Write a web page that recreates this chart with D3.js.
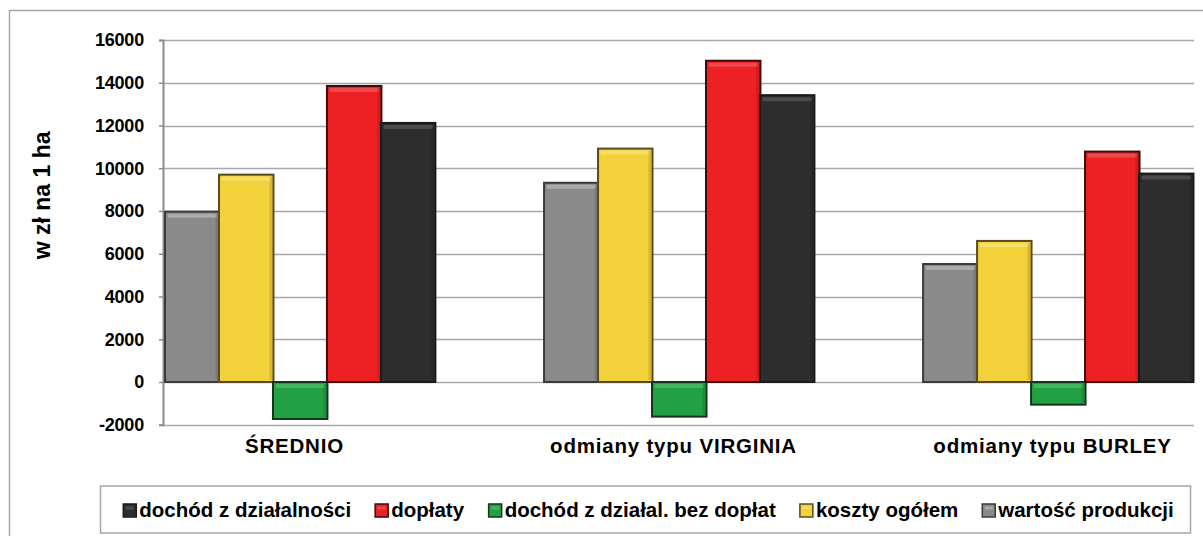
<!DOCTYPE html>
<html>
<head>
<meta charset="utf-8">
<script src="https://cdn.jsdelivr.net/npm/d3@7"></script>
<style>
  body { margin: 0; background: #fff; }
  svg { display: block; font-family: "Liberation Sans", Arial, sans-serif; font-weight: bold; }
</style>
</head>
<body>
<div id="chart"></div>
<script>
// categories on the x axis
const categories = ["ŚREDNIO", "odmiany typu VIRGINIA", "odmiany typu BURLEY"];

// series values (zł na 1 ha), in bar order
const wartoscProdukcji = [7970, 9320, 5520];
const kosztyOgolem = [9700, 10920, 6600];
const dochodBezDoplat = [-1730, -1620, -1060];
const doplaty = [13850, 15030, 10780];
const dochodZDzialalnosci = [12120, 13420, 9750];

const seriesNames = [
  "wartość produkcji",
  "koszty ogółem",
  "dochód z działal. bez dopłat",
  "dopłaty",
  "dochód z działalności",
];
const seriesValues = [wartoscProdukcji, kosztyOgolem, dochodBezDoplat, doplaty, dochodZDzialalnosci];

// legend lists the series in reverse
const legendOrder = [4, 3, 2, 1, 0];

const yTicks = [-2000, 0, 2000, 4000, 6000, 8000, 10000, 12000, 14000, 16000];

// fill, outline, bevel highlight
const colors = [
  { fill: "#8a8a8a", stroke: "#3a3a3a", light: "#b5b5b5" },
  { fill: "#f2d13a", stroke: "#5a4a20", light: "#f7e37a" },
  { fill: "#22a144", stroke: "#14361d", light: "#52bd66" },
  { fill: "#ed2024", stroke: "#3a0c0c", light: "#f0575a" },
  { fill: "#2d2d2d", stroke: "#1a1a1a", light: "#555555" },
];

function drawChart(id) {
  const w = 1203;
  const h = 536;
  const plot = { left: 163, right: 1194, top: 40, bottom: 424.75 };

  const svg = d3
    .select(`#${id}`)
    .append("svg")
    .attr("width", w)
    .attr("height", h);

  // outer chart border (right and bottom run past the picture)
  svg
    .append("rect")
    .attr("x", 9.5)
    .attr("y", 10.5)
    .attr("width", w)
    .attr("height", h)
    .attr("fill", "none")
    .attr("stroke", "#a6a6a6")
    .attr("stroke-width", 1.5);

  const y = d3.scaleLinear().domain([-2000, 16000]).range([plot.bottom, plot.top]);

  const x0 = d3
    .scaleBand()
    .domain(categories)
    .range([plot.left, plot.right])
    .paddingInner(0.288)
    .paddingOuter(0.004);

  const x1 = d3
    .scaleBand()
    .domain(d3.range(seriesNames.length))
    .range([0, x0.bandwidth()]);

  // gridlines
  svg
    .append("g")
    .selectAll("line")
    .data(yTicks)
    .enter()
    .append("line")
    .attr("x1", plot.left)
    .attr("x2", plot.right)
    .attr("y1", (d) => Math.round(y(d)) + 0.5)
    .attr("y2", (d) => Math.round(y(d)) + 0.5)
    .attr("stroke", "#a8a8a8")
    .attr("stroke-width", 1.5);

  // y axis (plain hyphen for negatives, as in the original)
  const yAxis = svg
    .append("g")
    .attr("transform", `translate(${plot.left},0)`)
    .call(d3.axisLeft(y).tickValues(yTicks).tickSize(4).tickPadding(15).tickFormat((d) => String(d)));
  yAxis.select(".domain").attr("stroke", "#8c8c8c").attr("stroke-width", 2);
  yAxis.selectAll(".tick line").attr("stroke", "#8c8c8c").attr("stroke-width", 1.5);
  yAxis
    .selectAll(".tick text")
    .attr("fill", "#000")
    .style("font-size", "18px")
    .style("font-weight", "bold")
    .style("font-family", "'Liberation Sans', Arial, sans-serif")
    .style("letter-spacing", "-0.2px");

  // y axis title
  svg
    .append("text")
    .attr("transform", `translate(50,${(plot.top + plot.bottom) / 2 - 37}) rotate(-90)`)
    .attr("text-anchor", "middle")
    .style("font-size", "23px")
    .text("w zł na 1 ha");

  // bars
  const groups = svg
    .append("g")
    .selectAll("g")
    .data(categories)
    .enter()
    .append("g")
    .attr("transform", (d) => `translate(${x0(d)},0)`);

  const bars = groups
    .selectAll("g")
    .data((d, ci) => seriesValues.map((vals, si) => ({ si, value: vals[ci] })))
    .enter()
    .append("g");

  bars
    .append("rect")
    .attr("x", (d) => x1(d.si) + 0.5)
    .attr("y", (d) => y(Math.max(0, d.value)))
    .attr("width", x1.bandwidth() + 0.5)
    .attr("height", (d) => Math.abs(y(d.value) - y(0)))
    .attr("fill", (d) => colors[d.si].fill)
    .attr("stroke", (d) => colors[d.si].stroke)
    .attr("stroke-width", 2);

  // bevel highlight along the top edge of each bar
  bars
    .append("rect")
    .attr("x", (d) => x1(d.si) + 3)
    .attr("y", (d) => y(Math.max(0, d.value)) + 2)
    .attr("width", x1.bandwidth() - 4.5)
    .attr("height", 4)
    .attr("rx", 1.5)
    .attr("fill", (d) => colors[d.si].light)
    .attr("opacity", 0.75);

  // darker shading along the right side
  bars
    .append("rect")
    .attr("x", (d) => x1(d.si) + x1.bandwidth() - 3)
    .attr("y", (d) => y(Math.max(0, d.value)) + 2)
    .attr("width", 2.5)
    .attr("height", (d) => Math.max(0, Math.abs(y(d.value) - y(0)) - 4))
    .attr("fill", "#000")
    .attr("opacity", 0.12);

  // category labels
  svg
    .append("g")
    .selectAll("text")
    .data(categories)
    .enter()
    .append("text")
    .attr("x", (d) => x0(d) + x0.bandwidth() / 2 - 5)
    .attr("y", 453)
    .attr("text-anchor", "middle")
    .style("font-size", "20.5px")
    .style("letter-spacing", "0.8px")
    .text((d) => d);

  // legend
  const legendBox = { x: 100.5, y: 486, w: 1090, h: 47 };
  svg
    .append("rect")
    .attr("x", legendBox.x)
    .attr("y", legendBox.y)
    .attr("width", legendBox.w)
    .attr("height", legendBox.h)
    .attr("fill", "#fff")
    .attr("stroke", "#a6a6a6")
    .attr("stroke-width", 1.5);

  const legend = svg.append("g");
  const items = legend
    .selectAll("g")
    .data(legendOrder)
    .enter()
    .append("g");

  items
    .append("rect")
    .attr("width", 13)
    .attr("height", 13)
    .attr("y", -13)
    .attr("fill", (d) => colors[d].fill)
    .attr("stroke", (d) => colors[d].stroke)
    .attr("stroke-width", 1.5);

  items
    .append("rect")
    .attr("x", 2.5)
    .attr("y", -10.5)
    .attr("width", 8)
    .attr("height", 3)
    .attr("fill", (d) => colors[d].light)
    .attr("opacity", 0.7);

  items
    .append("text")
    .attr("x", 16)
    .style("font-size", "20.5px")
    .text((d) => seriesNames[d]);

  // lay legend items out in a row, centred in the box
  const gap = 24;
  const widths = [];
  items.each(function () {
    widths.push(this.getBBox().width);
  });
  const total = d3.sum(widths) + gap * (widths.length - 1);
  let cx = legendBox.x + (legendBox.w - total) / 2 + 3;
  items.attr("transform", (d, i) => {
    const t = `translate(${cx},${legendBox.y + 31})`;
    cx += widths[i] + gap;
    return t;
  });
}

document.addEventListener("DOMContentLoaded", function () {
  drawChart("chart");
});
</script>
</body>
</html>
